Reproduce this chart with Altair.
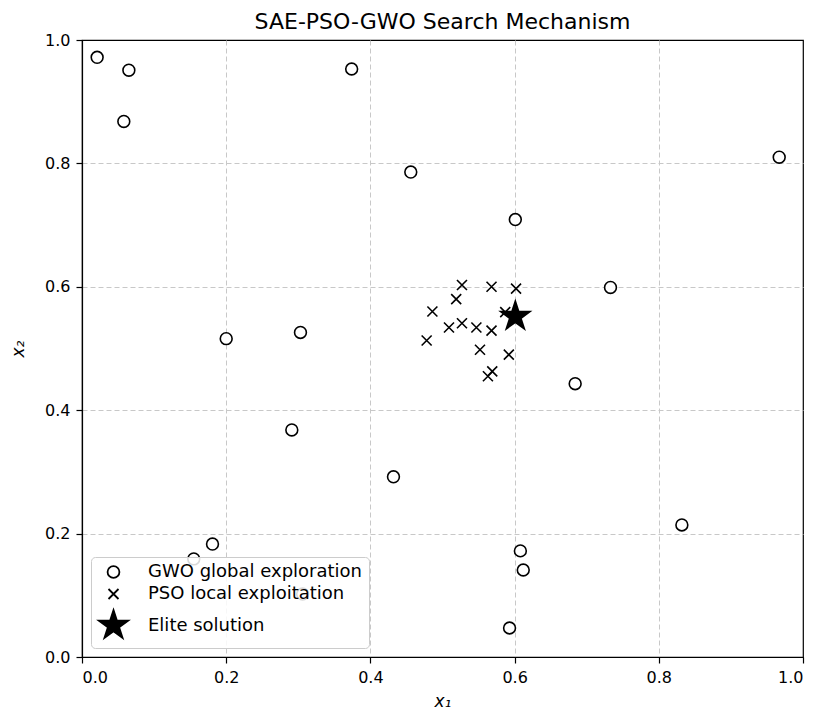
import altair as alt
import pandas as pd

# GWO global exploration (hollow circles)
gwo_x = [0.021, 0.065, 0.058, 0.374, 0.456, 0.967, 0.601, 0.733, 0.200, 0.303,
         0.291, 0.432, 0.684, 0.832, 0.155, 0.181, 0.306, 0.608, 0.612, 0.593]
gwo_y = [0.972, 0.951, 0.868, 0.953, 0.786, 0.810, 0.709, 0.599, 0.516, 0.526,
         0.368, 0.292, 0.443, 0.214, 0.159, 0.183, 0.102, 0.172, 0.141, 0.047]

# PSO local exploitation (x markers)
pso_x = [0.527, 0.568, 0.602, 0.519, 0.486, 0.587, 0.509, 0.527, 0.547, 0.568,
         0.478, 0.552, 0.592, 0.569, 0.563]
pso_y = [0.603, 0.600, 0.597, 0.580, 0.560, 0.559, 0.534, 0.541, 0.534, 0.529,
         0.513, 0.498, 0.490, 0.463, 0.455]

# Elite solution (star)
elite_x = [0.601]
elite_y = [0.552]

labels = ["GWO global exploration", "PSO local exploitation", "Elite solution"]
ticks = [0, 0.2, 0.4, 0.6, 0.8, 1.0]

rows = []
for x, y in zip(gwo_x, gwo_y):
    rows.append({"x1": x, "x2": y, "type": labels[0]})
for x, y in zip(pso_x, pso_y):
    rows.append({"x1": x, "x2": y, "type": labels[1]})
for x, y in zip(elite_x, elite_y):
    rows.append({"x1": x, "x2": y, "type": labels[2]})
df = pd.DataFrame(rows)
df["order"] = df["type"].map({labels[0]: 0, labels[1]: 1, labels[2]: 2})

x_path = "M-1,-1L1,1M-1,1L1,-1"
star_path = ("M0,-1L0.2245,-0.309L0.951,-0.309L0.363,0.118L0.588,0.809L0,0.382"
             "L-0.588,0.809L-0.363,0.118L-0.951,-0.309L-0.2245,-0.309Z")

FONT = "DejaVu Sans"
leg = alt.Legend(title=None, orient="bottom-left", offset=9,
                 fillColor="rgba(255,255,255,0.85)", strokeColor="#cccccc",
                 cornerRadius=4, padding=6, labelFontSize=18, labelFont=FONT,
                 labelColor="black", labelLimit=0, symbolStrokeWidth=1.8,
                 rowPadding=3, labelOffset=18)

grid_op = {"condition": {"test": "datum.value <= 0 || datum.value >= 1",
                         "value": 0}, "value": 1}

chart = alt.Chart(df).mark_point(opacity=1, strokeWidth=1.6).encode(
    x=alt.X("x1:Q", scale=alt.Scale(domain=[0, 1], nice=False),
            axis=alt.Axis(values=ticks, format=".1f", title="x₁",
                          gridOpacity=grid_op)),
    y=alt.Y("x2:Q", scale=alt.Scale(domain=[0, 1], nice=False),
            axis=alt.Axis(values=ticks, format=".1f", title="x₂",
                          gridOpacity=grid_op)),
    shape=alt.Shape("type:N", scale=alt.Scale(domain=labels,
                    range=["circle", x_path, star_path]), legend=leg),
    fill=alt.Fill("type:N", scale=alt.Scale(domain=labels,
                  range=["white", "black", "black"]), legend=leg),
    stroke=alt.Stroke("type:N", scale=alt.Scale(domain=labels,
                      range=["black", "black", "black"]), legend=leg),
    size=alt.Size("type:N", scale=alt.Scale(type="ordinal", domain=labels,
                  range=[140, 100, 950]), legend=leg),
    order=alt.Order("order:Q"),
).properties(
    width=721, height=617,
    title=alt.TitleParams("SAE-PSO-GWO Search Mechanism", fontSize=22,
                          font=FONT, fontWeight="normal", anchor="middle",
                          color="black", offset=-2),
    autosize=alt.AutoSizeParams(type="none"),
    padding={"left": 82, "top": 40, "right": 14, "bottom": 57},
).configure_view(
    stroke="black", strokeWidth=1.2
).configure_axis(
    grid=True, gridColor="#c8c8c8", gridDash=[5, 3], gridWidth=1,
    domainColor="black", domainWidth=1.2, tickColor="black", tickSize=6,
    tickWidth=1.2,
    labelFont=FONT, labelFontSize=16, labelColor="black", labelPadding=6,
    titleFont=FONT, titleFontSize=17, titleFontStyle="italic",
    titleFontWeight="normal", titleColor="black",
).configure_axisX(titlePadding=8).configure_axisY(titlePadding=17)

chart.save("out.html", embed_options={"renderer": "svg", "actions": False})
